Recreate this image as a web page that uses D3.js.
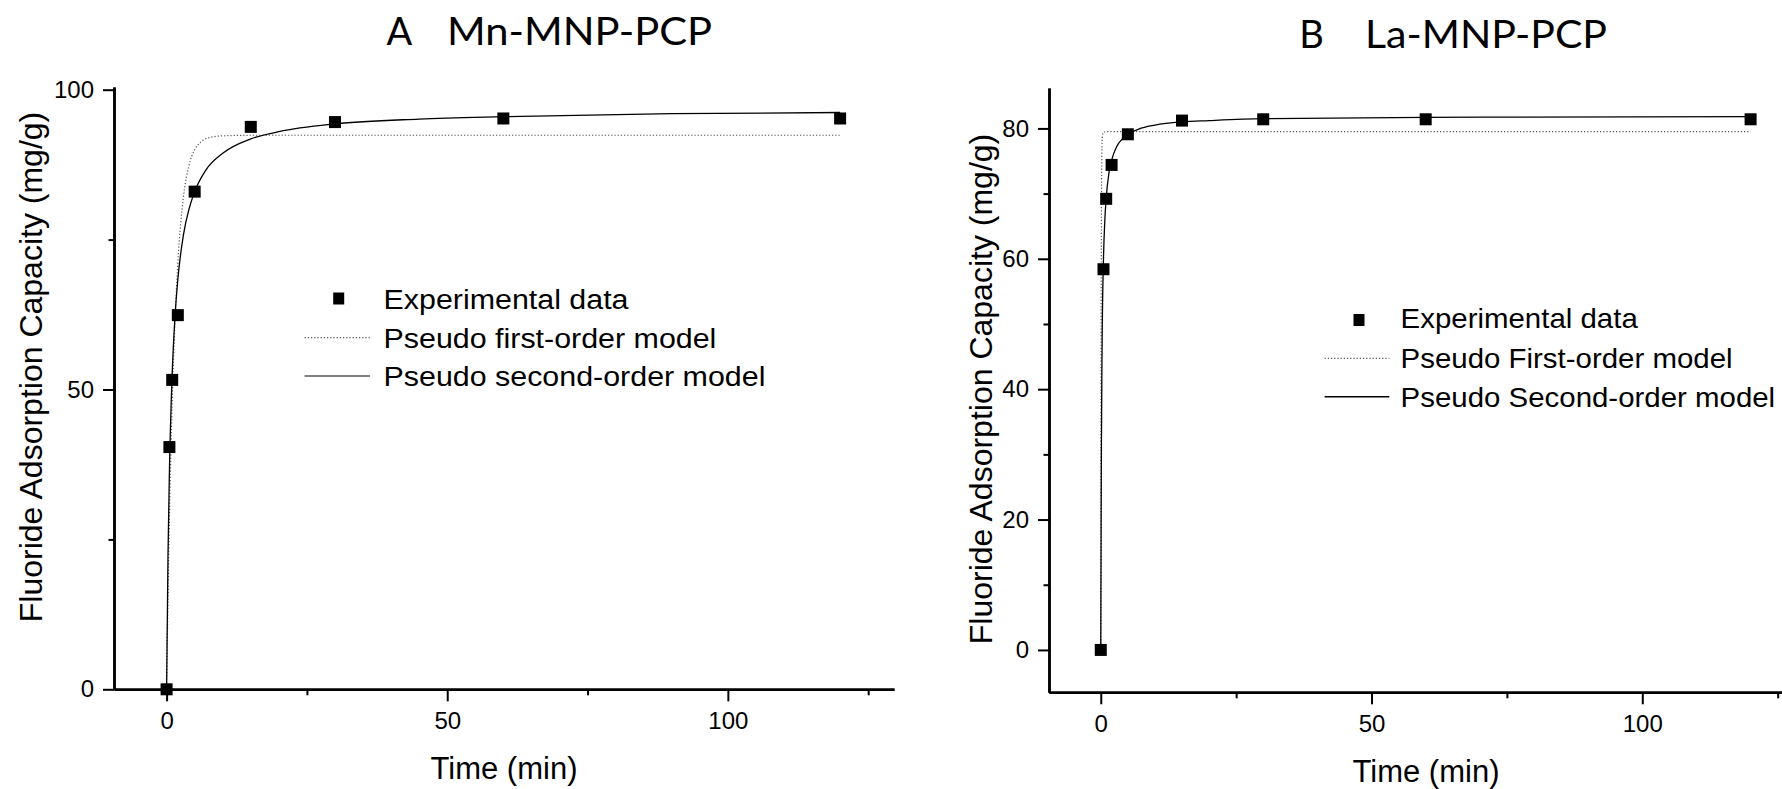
<!DOCTYPE html>
<html>
  <head>
    <meta charset="utf-8" />
    <script src="https://cdn.jsdelivr.net/npm/d3@7"></script>
    <style>
      * {
        margin: 0;
        padding: 0;
      }
      body {
        background: white;
        overflow: hidden;
      }
      svg {
        display: block;
        font-family: "Liberation Sans", Arial, sans-serif;
      }
      .title {
        font-family: Lato, "Open Sans", sans-serif;
        font-size: 38px;
      }
      .tick text {
        font-family: "Liberation Sans", Arial, sans-serif;
        font-size: 24px;
        fill: black;
      }
      .axis path,
      .axis line {
        stroke: black;
      }
      .axis-label {
        font-size: 31px;
      }
    </style>
  </head>
  <body>
    <script>
      // ---- panel A : Mn-MNP-PCP ----
      const timeA = [0, 0.5, 1, 2, 5, 15, 30, 60, 120];
      const expA = [0, 40.4, 51.6, 62.4, 83.0, 93.8, 94.6, 95.2, 95.2];

      const pfoTimeA = [0, 0.25, 0.5, 1, 1.5, 2, 3, 4, 5, 6, 8, 10, 15, 120];
      const pfoA = [0, 15.4, 28.3, 47.9, 61.5, 71.0, 82.1, 87.4, 90.0, 91.2, 92.1, 92.3, 92.4, 92.4];

      const psoTimeA = [0, 0.25, 0.5, 1, 1.5, 2, 3, 4, 5, 7, 10, 15, 20, 30, 45, 60, 90, 120];
      const psoA = [0, 22.3, 36.2, 52.7, 62.2, 68.3, 75.8, 80.1, 83.0, 86.6, 89.4, 91.8, 93.0, 94.3, 95.1, 95.5, 96.0, 96.2];

      // ---- panel B : La-MNP-PCP ----
      const timeB = [0, 0.5, 1, 2, 5, 15, 30, 60, 120];
      const expB = [0, 58.4, 69.2, 74.4, 79.1, 81.2, 81.4, 81.4, 81.4];

      const pfoTimeB = [0, 0.05, 0.1, 0.2, 0.3, 0.5, 1, 120];
      const pfoB = [0, 40, 62, 76, 78.8, 79.4, 79.5, 79.5];

      const psoTimeB = [0, 0.1, 0.25, 0.5, 0.75, 1, 1.5, 2, 3, 4, 5, 7, 10, 15, 20, 30, 60, 120];
      const psoB = [0, 28.9, 47.3, 60.0, 65.9, 69.3, 73.1, 75.1, 77.3, 78.4, 79.1, 79.9, 80.5, 81.0, 81.2, 81.5, 81.7, 81.8];

      // ticks / labels
      const xMajorTicks = [0, 50, 100];
      const xMinorTicks = [25, 75, 125];
      const yMajorTicksA = [0, 50, 100];
      const yMinorTicksA = [25, 75];
      const yMajorTicksB = [0, 20, 40, 60, 80];
      const yMinorTicksB = [10, 30, 50, 70];

      const yLabel = "Fluoride Adsorption Capacity (mg/g)";
      const xLabel = "Time (min)";
      const legendA = ["Experimental data", "Pseudo first-order model", "Pseudo second-order model"];
      const legendB = ["Experimental data", "Pseudo First-order model", "Pseudo Second-order model"];

      const W = 1782;
      const H = 789;

      const svg = d3
        .select("body")
        .append("svg")
        .attr("width", W)
        .attr("height", H);

      svg.append("rect").attr("width", W).attr("height", H).attr("fill", "white");

      function drawPanel(p) {
        const x = d3.scaleLinear().domain(p.xDomain).range(p.xRange);
        const y = d3.scaleLinear().domain(p.yDomain).range(p.yRange);
        const g = svg.append("g");

        // title: letter + sample name
        const tt = g.append("text").attr("class", "title").attr("y", p.titleY);
        tt.append("tspan").attr("x", p.titleX[0]).text(p.title[0]);
        tt.append("tspan")
          .attr("x", p.titleX[1])
          .attr("textLength", p.titleW)
          .attr("lengthAdjust", "spacingAndGlyphs")
          .text(p.title[1]);

        // axes
        const x0 = p.yRange[0];
        const xAxis = d3.axisBottom(x).tickValues(xMajorTicks).tickSizeInner(12).tickSizeOuter(0).tickPadding(11);
        const xMinor = d3.axisBottom(x).tickValues(xMinorTicks).tickSizeInner(6).tickSizeOuter(0).tickFormat("");
        const yAxis = d3.axisLeft(y).tickValues(p.yMajor).tickSizeInner(11).tickSizeOuter(0).tickPadding(9);
        const yMinor = d3.axisLeft(y).tickValues(p.yMinor).tickSizeInner(5.5).tickSizeOuter(0).tickFormat("");

        [xAxis, xMinor].forEach((ax) => {
          g.append("g")
            .attr("class", "axis")
            .attr("transform", "translate(0," + x0 + ")")
            .call(ax);
        });
        [yAxis, yMinor].forEach((ax) => {
          g.append("g")
            .attr("class", "axis")
            .attr("transform", "translate(" + p.xRange[0] + ",0)")
            .call(ax);
        });
        g.selectAll(".axis path").attr("stroke-width", 2.5);
        g.selectAll(".axis line").attr("stroke-width", 2);

        // axis labels
        g.append("text")
          .attr("class", "axis-label")
          .attr("text-anchor", "middle")
          .attr("x", p.xLabelX)
          .attr("y", p.xLabelY)
          .text(xLabel);
        g.append("text")
          .attr("text-anchor", "middle")
          .attr("transform", "translate(" + p.yLabelX + "," + p.yLabelY + ") rotate(-90)")
          .style("font-size", "32px")
          .text(yLabel);

        const line = d3
          .line()
          .x((d) => x(d[0]))
          .y((d) => y(d[1]))
          .curve(d3.curveMonotoneX);

        // pseudo first-order (dotted)
        g.append("path")
          .datum(p.pfoT.map((t, i) => [t, p.pfo[i]]))
          .attr("d", line)
          .attr("fill", "none")
          .attr("stroke", "#555")
          .attr("stroke-width", 1.2)
          .attr("stroke-dasharray", "1.2,2");

        // pseudo second-order (solid)
        g.append("path")
          .datum(p.psoT.map((t, i) => [t, p.pso[i]]))
          .attr("d", line)
          .attr("fill", "none")
          .attr("stroke", "black")
          .attr("stroke-width", 1.3);

        // experimental points
        const s = 12;
        g.selectAll(".pt")
          .data(p.t.map((t, i) => [t, p.q[i]]))
          .join("rect")
          .attr("class", "pt")
          .attr("x", (d) => x(d[0]) - s / 2)
          .attr("y", (d) => y(d[1]) - s / 2)
          .attr("width", s)
          .attr("height", s)
          .attr("fill", "black");

        // legend
        const lg = g.append("g").attr("class", "legend");
        const L = p.legend;
        lg.append("rect")
          .attr("x", L.markerX - 5.5)
          .attr("y", L.markerY - 6)
          .attr("width", 11)
          .attr("height", 12)
          .attr("fill", "black");
        lg.append("line")
          .attr("x1", L.lineX[0])
          .attr("x2", L.lineX[1])
          .attr("y1", L.lineY[0])
          .attr("y2", L.lineY[0])
          .attr("stroke", "#555")
          .attr("stroke-width", 1.2)
          .attr("stroke-dasharray", "1.2,2");
        lg.append("line")
          .attr("x1", L.lineX[0])
          .attr("x2", L.lineX[1])
          .attr("y1", L.lineY[1])
          .attr("y2", L.lineY[1])
          .attr("stroke", L.solidColor)
          .attr("stroke-width", 1.5);
        p.legendText.forEach((txt, i) => {
          lg.append("text")
            .attr("transform", "translate(" + L.textX + "," + L.base[i] + ") scale(" + L.stretch + ",1)")
            .style("font-size", L.size + "px")
            .text(txt);
        });
      }

      drawPanel({
        title: ["A", "Mn-MNP-PCP"],
        titleX: [386.5, 447],
        titleW: 265,
        titleY: 45,
        xDomain: [-9.37, 129.6],
        xRange: [114, 894],
        yDomain: [0, 100.45],
        yRange: [689.3, 87],
        yMajor: yMajorTicksA,
        yMinor: yMinorTicksA,
        xLabelX: 504,
        xLabelY: 779.3,
        yLabelX: 42,
        yLabelY: 367,
        t: timeA,
        q: expA,
        pfoT: pfoTimeA,
        pfo: pfoA,
        psoT: psoTimeA,
        pso: psoA,
        legendText: legendA,
        legend: {
          markerX: 338.7,
          markerY: 298.5,
          textX: 383.5,
          lineX: [304.6, 370],
          lineY: [337.7, 376],
          base: [308.5, 347.5, 386],
          solidColor: "#555",
          size: 27,
          stretch: 1.126,
        },
      });

      drawPanel({
        title: ["B", "La-MNP-PCP"],
        titleX: [1299.3, 1365],
        titleW: 242,
        titleY: 48.3,
        xDomain: [-9.56, 125.8],
        xRange: [1049, 1782],
        yDomain: [-6.5, 86.2],
        yRange: [692.3, 88],
        yMajor: yMajorTicksB,
        yMinor: yMinorTicksB,
        xLabelX: 1426,
        xLabelY: 781.7,
        yLabelX: 992,
        yLabelY: 389,
        t: timeB,
        q: expB,
        pfoT: pfoTimeB,
        pfo: pfoB,
        psoT: psoTimeB,
        pso: psoB,
        legendText: legendB,
        legend: {
          markerX: 1359,
          markerY: 320,
          textX: 1400.6,
          lineX: [1324.6, 1389.3],
          lineY: [358.3, 396.7],
          base: [328.3, 368.3, 406.7],
          solidColor: "black",
          size: 27,
          stretch: 1.09,
        },
      });
    </script>
  </body>
</html>
